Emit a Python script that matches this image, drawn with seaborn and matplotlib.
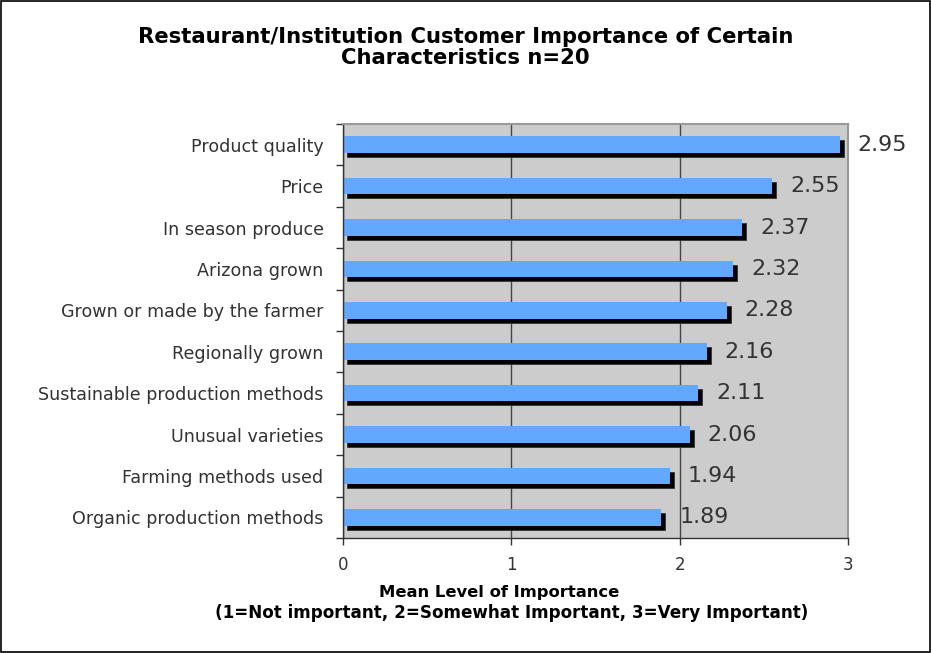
import matplotlib
matplotlib.use('Agg')
import matplotlib.pyplot as plt
import matplotlib.patches as mpatches
from matplotlib.transforms import ScaledTranslation
from matplotlib.ticker import FixedLocator
import pandas as pd
import seaborn as sns

sns.set_style("white")
plt.rcParams['font.family'] = ['DejaVu Sans']

characteristics = ["Product quality", "Price", "In season produce", "Arizona grown",
                   "Grown or made by the farmer", "Regionally grown",
                   "Sustainable production methods", "Unusual varieties",
                   "Farming methods used", "Organic production methods"]
mean_importance = [2.95, 2.55, 2.37, 2.32, 2.28, 2.16, 2.11, 2.06, 1.94, 1.89]
x_ticks = [0, 1, 2, 3]

df = pd.DataFrame({"characteristic": characteristics, "mean": mean_importance})

fig = plt.figure(figsize=(9.31, 6.53), dpi=100)
ax = fig.add_axes([0.3684, 0.176, 0.5424, 0.634])
ax.set_facecolor("#cccccc")

# shadow bars first, shifted a few pixels right/down
sns.barplot(data=df, x="mean", y="characteristic", orient="h", color="black",
            width=0.4, saturation=1, ax=ax)
shift = ax.transData + ScaledTranslation(4 / 100, -4 / 100, fig.dpi_scale_trans)
for p in ax.patches:
    p.set_transform(shift)
    p.set_edgecolor("#333333")
    p.set_linewidth(0.6)

sns.barplot(data=df, x="mean", y="characteristic", orient="h", color="#62a8ff",
            width=0.4, saturation=1, linewidth=0, ax=ax)

ax.bar_label(ax.containers[-1], labels=[f"{v:.2f}" for v in mean_importance],
             padding=13, fontsize=16, color="#333333")

ax.set_xlim(0, 3)
ax.set_ylim(len(characteristics) - 0.5, -0.5)
ax.set_xticks(x_ticks)
ax.set_xticklabels([str(t) for t in x_ticks], fontsize=12, color="#333333")
ax.xaxis.grid(True, color="#444444", linewidth=1)
ax.set_axisbelow(True)
ax.set_xlabel("")
ax.set_ylabel("")
ax.tick_params(axis="y", which="major", length=0, labelsize=12.6, pad=14, labelcolor="#333333")
ax.yaxis.set_minor_locator(FixedLocator([i - 0.5 for i in range(len(characteristics) + 1)]))
ax.tick_params(axis="y", which="minor", length=5, width=1, color="#333333", direction="out", left=True)
ax.tick_params(axis="x", length=5, width=1, color="#333333", direction="out", bottom=True, pad=8)

for s in ["top", "right"]:
    ax.spines[s].set_color("#999999")
    ax.spines[s].set_linewidth(1.5)
for s in ["left", "bottom"]:
    ax.spines[s].set_color("#333333")
    ax.spines[s].set_linewidth(1)

fig.suptitle("Restaurant/Institution Customer Importance of Certain\nCharacteristics n=20",
             x=0.5, y=0.958, va="top", fontsize=15.2, fontweight="bold", linespacing=1.05,
             color="black")
fig.text(0.536, 0.092, "Mean Level of Importance", ha="center", va="center",
         fontsize=11.8, fontweight="bold", color="black")
fig.text(0.55, 0.061, "(1=Not important, 2=Somewhat Important, 3=Very Important)",
         ha="center", va="center", fontsize=12.1, fontweight="bold", color="black")

fig.patches.append(mpatches.Rectangle((0.001, 0.0015), 0.998, 0.997, transform=fig.transFigure,
                                      fill=False, edgecolor="black", linewidth=1.2))

fig.savefig("out.png", dpi=100)
